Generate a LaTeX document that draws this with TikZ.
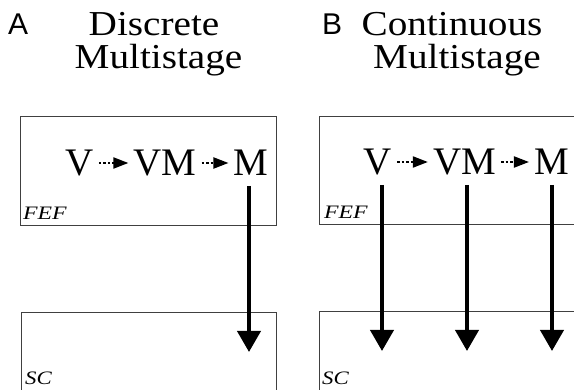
\documentclass[tikz,border=0pt]{standalone}
\usepackage{fontspec}
\setmainfont{Liberation Serif}
\newfontfamily\labfont{Liberation Sans}
\usetikzlibrary{arrows.meta}
\tikzset{
  area/.style={draw=black!75, line width=0.8pt},
  titletext/.style={anchor=base, inner sep=0pt, font=\fontsize{35}{35}\selectfont},
  paneltag/.style={anchor=base west, inner sep=0pt, font=\labfont\fontsize{30}{30}\selectfont},
  stage/.style={anchor=base, inner sep=0pt, font=\fontsize{39}{39}\selectfont},
  arealabel/.style={anchor=base west, inner sep=0pt, font=\itshape\fontsize{19}{19}\selectfont},
  chain/.style={line width=2pt, dash pattern=on 2.5pt off 2pt, shorten <=5pt, shorten >=5pt,
    -{Triangle[length=15pt,width=11pt]}},
  output/.style={line width=4pt, -{Triangle[length=21pt,width=23pt]}}
}
\begin{document}
\begin{tikzpicture}[x=1pt,y=-1pt]
\useasboundingbox (0,0) rectangle (574,390);
\clip (0,0) rectangle (574,390);
% panel tags and titles
\node[paneltag] (tagA) at (8,35) {A};
\node[paneltag] (tagB) at (322,35) {B};
\node[titletext] (tA1) at (154,36) {\scalebox{1.12}[1]{Discrete}};
\node[titletext] (tA2) at (158.5,69) {\scalebox{1.12}[1]{Multistage}};
\node[titletext] (tB1) at (452,36) {\scalebox{1.12}[1]{Continuous}};
\node[titletext] (tB2) at (457,69) {\scalebox{1.12}[1]{Multistage}};
% area boxes
\draw[area] (20.5,116) rectangle (276,225);
\draw[area] (21,312) rectangle (276,400);
\draw[area] (319,116) rectangle (590,224);
\draw[area] (319,311) rectangle (590,400);
\node[arealabel] (fefA) at (23,220) {\scalebox{1.25}[1]{FEF}};
\node[arealabel] (scA) at (25,385) {\scalebox{1.2}[1]{SC}};
\node[arealabel] (fefB) at (324,219) {\scalebox{1.25}[1]{FEF}};
\node[arealabel] (scB) at (322,385) {\scalebox{1.2}[1]{SC}};
% stages A
\node[stage] (vA) at (79.5,176) {V};
\node[stage] (vmA) at (165,176) {VM};
\node[stage] (mA) at (251,176) {M};
\draw[chain] (vA.east |- 0,163) -- (vmA.west |- 0,163);
\draw[chain] (vmA.east |- 0,163) -- (mA.west |- 0,163);
\coordinate (tipA) at (249,352);
\draw[output] (249,186) -- (tipA);
% stages B
\node[stage] (vB) at (378,175) {V};
\node[stage] (vmB) at (464.5,175) {VM};
\node[stage] (mB) at (551.5,175) {M};
\draw[chain] (vB.east |- 0,162) -- (vmB.west |- 0,162);
\draw[chain] (vmB.east |- 0,162) -- (mB.west |- 0,162);
\coordinate (tipB1) at (382,351);
\coordinate (tipB2) at (467,351);
\coordinate (tipB3) at (552,351);
\draw[output] (382,185) -- (tipB1);
\draw[output] (467,185) -- (tipB2);
\draw[output] (552,185) -- (tipB3);
\end{tikzpicture}
\end{document}
